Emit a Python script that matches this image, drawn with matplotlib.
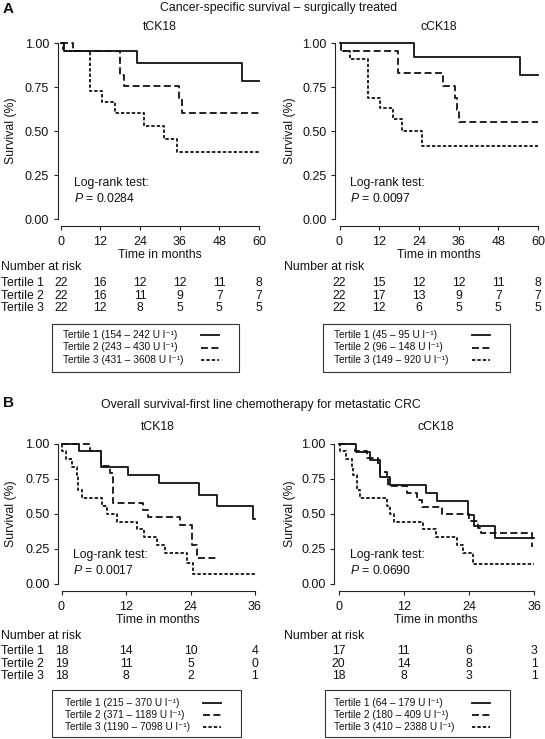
import matplotlib
matplotlib.use("Agg")
import matplotlib.pyplot as plt
from matplotlib.transforms import blended_transform_factory
from matplotlib.lines import Line2D
from matplotlib.patches import Rectangle
from matplotlib.ticker import FormatStrFormatter

plt.rcParams['font.family'] = ['Liberation Sans', 'DejaVu Sans']
plt.rcParams['mathtext.fontset'] = 'custom'
plt.rcParams['mathtext.rm'] = 'Liberation Sans'
plt.rcParams['mathtext.it'] = 'Liberation Sans:italic'
plt.rcParams['lines.scale_dashes'] = False

W, H = 545, 739
INK = '#111111'

# ---- data -------------------------------------------------------------
a_ticks = [0, 12, 24, 36, 48, 60]
b_ticks = [0, 12, 24, 36]
y_ticks = [0, 0.25, 0.5, 0.75, 1.0]
tertiles = ['Tertile 1', 'Tertile 2', 'Tertile 3']
unit = 'U l\u207b\u00b9'

# A: cancer-specific survival, tCK18
a_t_time1 = [0, 1.0, 23.0, 55.0, 60]
a_t_surv1 = [1, 0.955, 0.886, 0.784, 0.784]
a_t_time2 = [0, 3.8, 17.8, 19.3, 35.9, 36.6, 60]
a_t_surv2 = [1, 0.955, 0.82, 0.755, 0.69, 0.603, 0.603]
a_t_time3 = [0, 0.8, 8.8, 12.5, 16.5, 25.3, 31.4, 35.3, 60]
a_t_surv3 = [1, 0.955, 0.727, 0.665, 0.603, 0.53, 0.455, 0.38, 0.38]
a_t_risk = [[22, 16, 12, 12, 11, 8], [22, 16, 11, 9, 7, 7], [22, 12, 8, 5, 5, 5]]
a_t_ranges = ['154 \u2013 242', '243 \u2013 430', '431 \u2013 3608']

# A: cancer-specific survival, cCK18
a_c_time1 = [0, 22.5, 54.5, 60]
a_c_surv1 = [1, 0.924, 0.82, 0.82]
a_c_time2 = [0, 0.5, 17.6, 31.2, 34.9, 35.6, 36.2, 60]
a_c_surv2 = [1, 0.955, 0.833, 0.757, 0.687, 0.62, 0.552, 0.552]
a_c_time3 = [0, 0.4, 3.2, 8.7, 12.3, 16.1, 18.8, 25.0, 60]
a_c_surv3 = [1, 0.955, 0.91, 0.69, 0.63, 0.57, 0.50, 0.415, 0.415]
a_c_risk = [[22, 15, 12, 12, 11, 8], [22, 17, 13, 9, 7, 7], [22, 12, 6, 5, 5, 5]]
a_c_ranges = ['45 \u2013 95', '96 \u2013 148', '149 \u2013 920']

# B: overall survival, tCK18
b_t_time1 = [0, 3.3, 7.3, 12.4, 18.2, 25.5, 29.0, 35.6, 36.0]
b_t_surv1 = [1, 0.944, 0.833, 0.778, 0.722, 0.632, 0.557, 0.466, 0.466]
b_t_time2 = [0, 5.3, 7.4, 9.0, 9.6, 15.1, 16.1, 22.0, 24.2, 25.3, 29.2]
b_t_surv2 = [1, 0.947, 0.842, 0.789, 0.579, 0.526, 0.474, 0.42, 0.28, 0.185, 0.185]
b_t_time3 = [0, 0.1, 0.9, 1.9, 2.8, 3.1, 3.9, 7.6, 8.5, 10.4, 14.1, 15.3, 17.7, 19.3, 23.3, 24.5, 36.0]
b_t_surv3 = [1, 0.944, 0.889, 0.833, 0.778, 0.667, 0.611, 0.556, 0.5, 0.444, 0.389, 0.333, 0.278, 0.222, 0.148, 0.074, 0.074]
b_t_risk = [[18, 14, 10, 4], [19, 11, 5, 0], [18, 8, 2, 1]]
b_t_ranges = ['215 \u2013 370', '371 \u2013 1189', '1190 \u2013 7098']

# B: overall survival, cCK18
b_c_time1 = [0, 3.3, 5.8, 7.6, 9.4, 16.2, 18.2, 23.8, 25.0, 28.9, 36.0]
b_c_surv1 = [1, 0.941, 0.882, 0.765, 0.706, 0.647, 0.588, 0.49, 0.412, 0.33, 0.33]
b_c_time2 = [0, 3.0, 5.2, 7.3, 7.6, 9.0, 9.2, 12.6, 14.5, 15.4, 19.1, 24.1, 25.6, 26.3, 35.6, 35.7]
b_c_surv2 = [1, 0.95, 0.90, 0.85, 0.80, 0.75, 0.70, 0.65, 0.60, 0.55, 0.50, 0.45, 0.40, 0.36, 0.26, 0.26]
b_c_time3 = [0, 0.2, 1.4, 2.4, 2.7, 3.4, 3.9, 9.0, 9.5, 10.3, 15.6, 17.9, 21.9, 23.0, 24.7, 36.0]
b_c_surv3 = [1, 0.944, 0.889, 0.833, 0.778, 0.667, 0.611, 0.556, 0.5, 0.444, 0.389, 0.333, 0.278, 0.222, 0.139, 0.139]
b_c_risk = [[17, 11, 6, 3], [20, 14, 8, 1], [18, 8, 3, 1]]
b_c_ranges = ['64 \u2013 179', '180 \u2013 409', '410 \u2013 2388']

styles = ['-', (0, (5, 2.5)), (0, (2.4, 1.5))]

fig = plt.figure(figsize=(W / 100, H / 100), dpi=100)


def fx(px):
    return px / W


def fy(py):
    return 1 - py / H


def ftext(x, y, s, **kw):
    kw.setdefault('va', 'center')
    kw.setdefault('fontsize', 8.8)
    kw.setdefault('color', INK)
    fig.text(fx(x), fy(y), s, **kw)


def panel(box, data_px, tmax, ticks, curves, title, pval, stat_x, stat_y,
          ylab_x, xlab_y, risk, risk_head_x, risk_ys, names, ranges, leg_box, leg_x, leg_ys):
    left, right, top, bottom = box
    x0, x1, y1, y0 = data_px
    ax = fig.add_axes([fx(left), fy(bottom), (right - left) / W, (bottom - top) / H])
    sx = (x1 - x0) / tmax
    sy = y0 - y1
    ax.set_xlim((left - x0) / sx, tmax + (right - x1) / sx)
    ax.set_ylim(-(bottom - y0) / sy, 1 + (y1 - top) / sy)
    ax.patch.set_alpha(0)

    for (t, s), ls in zip(curves, styles):
        ax.step(t, s, where='post', color=INK, lw=1.3, linestyle=ls)

    for side in ['top', 'right']:
        ax.spines[side].set_visible(False)
    ax.spines['left'].set_bounds(0, 1)
    ax.spines['bottom'].set_bounds(0, tmax)
    for side in ['left', 'bottom']:
        ax.spines[side].set_linewidth(0.8)
        ax.spines[side].set_color('#222222')
    ax.set_xticks(ticks)
    ax.set_yticks(y_ticks)
    ax.yaxis.set_major_formatter(FormatStrFormatter('%.2f'))
    ax.tick_params(direction='out', length=3, width=0.8, labelsize=9,
                   colors='#222222', labelcolor=INK)
    ax.tick_params(axis='x', pad=4)
    ax.tick_params(axis='y', pad=3)

    ftext((x0 + x1) / 2, top - 13, title, ha='center')
    ftext((x0 + x1) / 2, xlab_y, 'Time in months', ha='center')
    ftext(ylab_x, (y1 + y0) / 2, 'Survival (%)', ha='center', rotation=90)
    ftext(stat_x, stat_y, 'Log-rank test:')
    ftext(stat_x, stat_y + 15, '$P$ = ' + pval)

    # number at risk table
    ftext(risk_head_x, risk_ys[0], 'Number at risk')
    tr = blended_transform_factory(ax.transData, fig.transFigure)
    for row, ry, name in zip(risk, risk_ys[1:], tertiles):
        if names:
            ftext(1, ry, name)
        for t, n in zip(ticks, row):
            ax.text(t, fy(ry), str(n), transform=tr, ha='center', va='center',
                    fontsize=8.8, color=INK, clip_on=False)

    # legend box
    bl, br, bt, bb = leg_box
    fig.add_artist(Rectangle((fx(bl), fy(bb)), (br - bl) / W, (bb - bt) / H,
                             transform=fig.transFigure, fill=False,
                             lw=0.8, edgecolor='#333333'))
    for name, rng, ly, ls in zip(tertiles, ranges, leg_ys, styles):
        ftext(leg_x[0], ly, '%s (%s %s)' % (name, rng, unit), fontsize=7.3)
        fig.add_artist(Line2D([fx(leg_x[1]), fx(leg_x[2])], [fy(ly), fy(ly)],
                              transform=fig.transFigure, color=INK, lw=1.3, linestyle=ls))
    return ax


a_t_curves = [(a_t_time1, a_t_surv1), (a_t_time2, a_t_surv2), (a_t_time3, a_t_surv3)]
a_c_curves = [(a_c_time1, a_c_surv1), (a_c_time2, a_c_surv2), (a_c_time3, a_c_surv3)]
b_t_curves = [(b_t_time1, b_t_surv1), (b_t_time2, b_t_surv2), (b_t_time3, b_t_surv3)]
b_c_curves = [(b_c_time1, b_c_surv1), (b_c_time2, b_c_surv2), (b_c_time3, b_c_surv3)]

# panel A
panel((57.5, 262, 40, 226), (60.7, 259, 43.3, 219), 60, a_ticks, a_t_curves, 'tCK18',
      '0.0284', 74, 183, 11, 255, a_t_risk, 1, [267, 283, 296, 308], True,
      a_t_ranges, (52, 239, 324, 372), (63, 201, 219), [335, 347.5, 360])
panel((335, 541, 40, 226), (339.5, 538, 43.3, 219), 60, a_ticks, a_c_curves, 'cCK18',
      '0.0097', 350, 183, 290, 255, a_c_risk, 284, [267, 283, 296, 308], False,
      a_c_ranges, (323, 510, 324, 372), (334, 472, 490), [335, 347.5, 360])

# panel B
panel((58, 258, 440, 591), (61.5, 255, 443.5, 584), 36, b_ticks, b_t_curves, 'tCK18',
      '0.0017', 73, 555, 11, 620, b_t_risk, 1, [636, 651, 664, 676], True,
      b_t_ranges, (52, 241, 690, 737), (65, 203, 221), [703, 715, 727])
panel((334, 537, 440, 591), (338.5, 534, 443.5, 584), 36, b_ticks, b_c_curves, 'cCK18',
      '0.0690', 350, 555, 290, 620, b_c_risk, 284, [636, 651, 664, 676], False,
      b_c_ranges, (325, 510, 690, 737), (334, 472, 490), [703, 715, 727])

ftext(3, 9, 'A', fontsize=11, fontweight='bold')
ftext(279, 8, 'Cancer-specific survival \u2013 surgically treated', ha='center')
ftext(3, 403, 'B', fontsize=11, fontweight='bold')
ftext(261, 405, 'Overall survival-first line chemotherapy for metastatic CRC', ha='center')

fig.savefig('out.png', dpi=100)
